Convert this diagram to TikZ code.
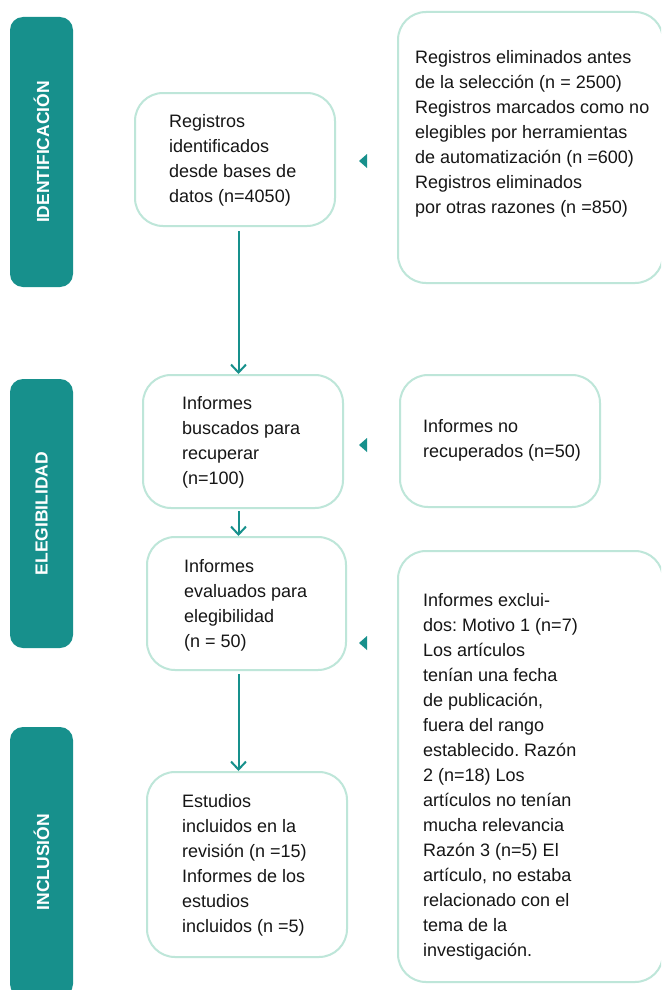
\documentclass[tikz,border=0pt]{standalone}
\usepackage{fontspec}
\setmainfont{Liberation Sans}
\usetikzlibrary{arrows.meta}
\definecolor{teal1}{HTML}{17908C}
\definecolor{mint}{HTML}{BEE6D9}
\definecolor{ink}{HTML}{161616}
\tikzset{
 box/.style={draw=mint, line width=2pt, rounded corners=28pt, inner sep=0pt},
 side/.style={fill=teal1, rounded corners=13pt, text=white, font=\fontsize{17.5}{20}\selectfont\bfseries, inner sep=0pt, rotate=90},
 txt/.style={anchor=north west, inner sep=0pt, align=left, text=ink, font=\fontsize{18}{25}\selectfont\frenchspacing},
 arr/.style={draw=teal1, line width=2pt, -{Straight Barb[length=8pt,width=15pt,line width=2pt]}},
 tri/.style={fill=teal1}
}
\begin{document}
\begin{tikzpicture}[x=1pt,y=-1pt]
\useasboundingbox (0,0) rectangle (661,990);
\clip (0,0) rectangle (661,990);
\fill[white] (0,0) rectangle (661,990);

% side bars
\node[side, minimum width=270, minimum height=63] (s1) at (41.5,152) {IDENTIFICACIÓN};
\node[side, minimum width=269, minimum height=63] (s2) at (41.5,513.5) {ELEGIBILIDAD};
\node[side, minimum width=270, minimum height=63] (s3) at (41.5,862) {INCLUSIÓN};

% boxes
\node[box, minimum width=200, minimum height=133] (b1) at (235,159.5) {};
\node[box, minimum width=265, minimum height=271] (b3) at (530.5,147.5) {};
\node[box, minimum width=200, minimum height=133] (b2) at (243,441.5) {};
\node[box, minimum width=200, minimum height=132] (b6) at (500,441) {};
\node[box, minimum width=199, minimum height=133] (b4) at (246.5,603.5) {};
\node[box, minimum width=265, minimum height=431] (b7) at (530.5,766.5) {};
\node[box, minimum width=200, minimum height=185] (b5) at (247,864.5) {};

% texts
\node[txt] (t1) at (169,113.9) {Registros\\identificados\\desde bases de\\datos (n=4050)};
\node[txt] (t3) at (415,49.9) {Registros eliminados antes\\de la selección (n = 2500)\\Registros marcados como no\\elegibles por herramientas\\de automatización (n =600)\\Registros eliminados\\por otras razones (n =850)};
\node[txt] (t2) at (182,395.9) {Informes\\buscados para\\recuperar\\(n=100)};
\node[txt] (t6) at (423,418.9) {Informes no\\recuperados (n=50)};
\node[txt] (t4) at (184,558.9) {Informes\\evaluados para\\elegibilidad\\(n = 50)};
\node[txt] (t5) at (182,793.9) {Estudios\\incluidos en la\\revisión (n =15)\\Informes de los\\estudios\\incluidos (n =5)};
\node[txt] (t7) at (423,592.9) {Informes exclui-\\dos: Motivo 1 (n=7)\\Los artículos\\tenían una fecha\\de publicación,\\fuera del rango\\establecido. Razón\\2 (n=18) Los\\artículos no tenían\\mucha relevancia\\Razón 3 (n=5) El\\artículo, no estaba\\relacionado con el\\tema de la\\investigación.};

% arrows
\coordinate (ax) at (238.5,0);
\draw[arr, shorten <=4pt] (ax |- b1.south) -- (ax |- b2.north);
\draw[arr, shorten <=2pt] (ax |- b2.south) -- (ax |- b4.north);
\draw[arr, shorten <=3pt] (ax |- b4.south) -- (ax |- b5.north);

% small triangles
\fill[tri] (367,154) -- (359,161) -- (367,168) -- cycle;
\fill[tri] (367,438) -- (359,445) -- (367,452) -- cycle;
\fill[tri] (367,636) -- (359,643) -- (367,650) -- cycle;
\end{tikzpicture}
\end{document}
